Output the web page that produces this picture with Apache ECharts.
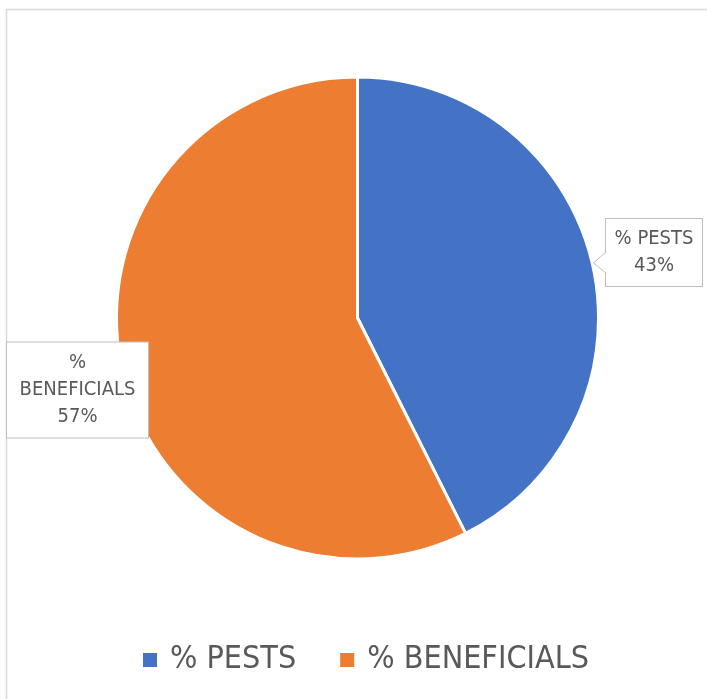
<!DOCTYPE html>
<html>
<head>
<meta charset="utf-8">
<script src="https://cdn.jsdelivr.net/npm/echarts@6/dist/echarts.min.js"></script>
<style>
html,body{margin:0;padding:0;background:#fff;}
#c{width:707px;height:699px;}
</style>
</head>
<body>
<div id="c"></div>
<script>
const categories = ['% PESTS', '% BENEFICIALS'];
const values = [42.6, 57.4];
const colors = ['#4472C4', '#ED7D31'];

const FONT = '"Liberation Sans Narrow", "DejaVu Sans Condensed", "Liberation Sans", sans-serif';
const chart = echarts.init(document.getElementById('c'));

const labelBoxes = {
  '% PESTS': {x: 654, y: 252.5, width: 76, padding: [6, 10, 7, 10]},
  '% BENEFICIALS': {x: 77.5, y: 390, width: 121, padding: [7, 10, 7, 10]}
};

chart.setOption({
  backgroundColor: '#fff',
  animation: false,
  color: colors,
  graphic: [
    {type: 'rect', shape: {x: 6.5, y: 9.5, width: 760, height: 760}, style: {fill: null, stroke: '#d9d9d9', lineWidth: 1.5}, z: 0},
    {type: 'polygon', shape: {points: [[608, 251], [593.5, 263], [608, 274]]}, style: {fill: '#fff', stroke: null}, z: 100},
    {type: 'polyline', shape: {points: [[606.5, 251.5], [593.5, 263], [606.5, 273.5]]}, style: {fill: null, stroke: '#bfbfbf', lineWidth: 1}, z: 101}
  ],
  legend: {
    top: 644,
    left: 141,
    padding: 0,
    itemWidth: 16,
    itemHeight: 16,
    itemGap: 42,
    icon: 'rect',
    data: categories,
    textStyle: {color: '#595959', fontSize: 32, fontFamily: FONT, padding: [0, 0, 0, 7]}
  },
  series: [{
    type: 'pie',
    center: [357.5, 318],
    radius: [0, 241],
    startAngle: 90,
    clockwise: true,
    percentPrecision: 0,
    itemStyle: {borderColor: '#fff', borderWidth: 3},
    labelLine: {show: false},
    label: {
      show: true,
      position: 'outside',
      color: '#595959',
      fontSize: 20,
      fontFamily: FONT,
      lineHeight: 27,
      align: 'center',
      overflow: 'none',
      backgroundColor: '#fff',
      borderColor: '#bfbfbf',
      borderWidth: 1,
      formatter: p => (p.name.length > 10 ? p.name.replace(' ', '\n') : p.name) + '\n' + p.percent + '%'
    },
    labelLayout: p => {
      const b = labelBoxes[categories[p.dataIndex]];
      return {x: b.x, y: b.y, align: 'center', verticalAlign: 'middle'};
    },
    data: categories.map((n, i) => ({
      name: n,
      value: values[i],
      label: {width: labelBoxes[n].width, padding: labelBoxes[n].padding}
    }))
  }]
});
</script>
</body>
</html>
